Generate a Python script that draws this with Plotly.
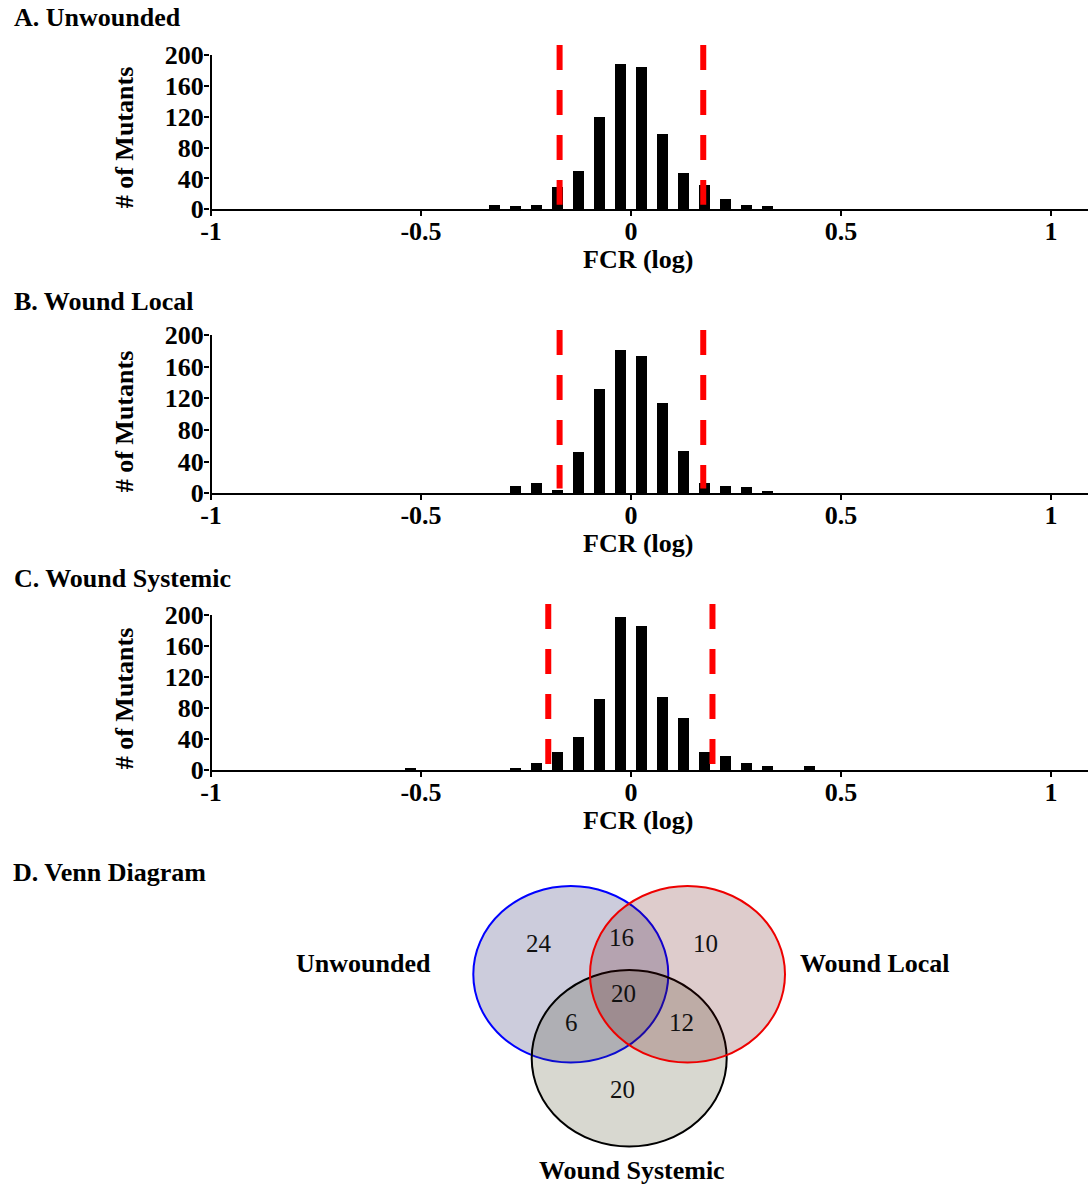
import plotly.graph_objects as go

# ---------------- data ----------------
fcr_bins = [-0.525, -0.475, -0.425, -0.375, -0.325, -0.275, -0.225, -0.175, -0.125, -0.075,
            -0.025, 0.025, 0.075, 0.125, 0.175, 0.225, 0.275, 0.325, 0.375, 0.425]
counts_unwounded = [0, 0, 0, 0, 6, 4, 6, 29, 50, 119, 188, 185, 98, 47, 32, 14, 6, 4, 0, 0]
counts_wound_local = [0, 0, 0, 0, 0, 9, 13, 4, 52, 132, 181, 173, 114, 54, 13, 9, 8, 3, 0, 0]
counts_wound_systemic = [3, 0, 0, 0, 0, 3, 9, 24, 43, 92, 197, 186, 95, 67, 23, 18, 10, 5, 0, 5]
thresholds_unwounded = [-0.17, 0.172]
thresholds_wound_local = [-0.17, 0.172]
thresholds_wound_systemic = [-0.197, 0.194]

panel_titles = ["A. Unwounded", "B. Wound Local", "C. Wound Systemic"]
x_tick_vals = [-1, -0.5, 0, 0.5, 1]
x_tick_text = ["-1", "-0.5", "0", "0.5", "1"]
y_tick_vals = [0, 40, 80, 120, 160, 200]
y_tick_text = ["0", "40", "80", "120", "160", "200"]
x_title = "FCR (log)"
y_title = "# of Mutants"

venn_title = "D. Venn Diagram"
venn_sets = ["Unwounded", "Wound Local", "Wound Systemic"]
venn_regions = ["U only", "U&L", "L only", "U&L&S", "U&S", "L&S", "S only"]
venn_counts = [24, 16, 10, 20, 6, 12, 20]

# ---------------- layout helpers ----------------
W, H = 1088, 1185
FONT = "Liberation Serif"


def pxx(p):
    return p / W


def pyy(p):
    return 1 - p / H


# per panel: baseline pixel, pixel of 200 tick, top pixel of dashed line
panel_geom = [(209.3, 55, 45), (493.3, 335, 330), (770.3, 615, 604)]
x_zero_px, x_unit_px = 631, 420
x_range = [(210 - x_zero_px) / x_unit_px, (W - x_zero_px) / x_unit_px]

series = [counts_unwounded, counts_wound_local, counts_wound_systemic]
thresholds = [thresholds_unwounded, thresholds_wound_local, thresholds_wound_systemic]

fig = go.Figure()
shapes = []
annotations = []

for i, (counts, thr, title, (base, p200, top)) in enumerate(zip(series, thresholds, panel_titles, panel_geom)):
    n = "" if i == 0 else str(i + 1)
    xa, ya = "x" + n, "y" + n
    fig.add_trace(go.Bar(x=fcr_bins, y=counts, width=0.024, marker=dict(color="black", line=dict(width=0)),
                         xaxis=xa, yaxis=ya, showlegend=False, hoverinfo="x+y"))
    ytop = 200 * (base - top) / (base - p200)
    fig.update_layout(**{
        "xaxis" + n: dict(domain=[210 / W, 1], range=x_range, anchor=ya, showgrid=False, zeroline=False,
                          automargin=False, ticklabelstandoff=-8,
                          showline=True, linecolor="black", linewidth=2, ticks="outside", ticklen=5,
                          tickwidth=2, tickcolor="black", tickvals=x_tick_vals, ticktext=x_tick_text,
                          tickfont=dict(family=FONT, size=26, color="black", weight="bold")),
        "yaxis" + n: dict(domain=[pyy(base), pyy(top)], range=[0, ytop], anchor=xa, showgrid=False,
                          zeroline=False, showline=False, ticks="outside", ticklen=5, tickwidth=2,
                          automargin=False, ticklabelstandoff=-5,
                          tickcolor="black", tickvals=y_tick_vals, ticktext=y_tick_text,
                          tickfont=dict(family=FONT, size=26, color="black", weight="bold")),
    })
    # y axis line only from 0 to 200
    shapes.append(dict(type="line", xref=xa, yref=ya, x0=-1, x1=-1, y0=0, y1=200,
                       line=dict(color="black", width=2)))
    for t in thr:
        shapes.append(dict(type="line", xref=xa, yref=ya, x0=t, x1=t, y0=ytop, y1=6,
                           line=dict(color="#ff0000", width=6, dash="25px,20px")))
    annotations.append(dict(text=title, xref="paper", yref="paper", x=pxx(12), y=pyy(base - 192),
                            xanchor="left", yanchor="middle", showarrow=False,
                            font=dict(family=FONT, size=26, color="black", weight="bold")))
    annotations.append(dict(text=x_title, xref="paper", yref="paper", x=pxx(638), y=pyy(base + 50),
                            xanchor="center", yanchor="middle", showarrow=False,
                            font=dict(family=FONT, size=26, color="black", weight="bold")))
    annotations.append(dict(text=y_title, xref="paper", yref="paper", x=pxx(124), y=pyy(base - 72),
                            xanchor="center", yanchor="middle", showarrow=False, textangle=-90,
                            font=dict(family=FONT, size=26, color="black", weight="bold")))

# ---------------- Venn diagram ----------------
annotations.append(dict(text=venn_title, xref="paper", yref="paper", x=pxx(11), y=pyy(872),
                        xanchor="left", yanchor="middle", showarrow=False,
                        font=dict(family=FONT, size=26, color="black", weight="bold")))

circle_geom = {  # centre px, radii px
    "Unwounded": (570.8, 974.3, 97.5, 88.3, "rgba(0,0,80,0.2)", "#0000ff"),
    "Wound Systemic": (629.2, 1058.3, 97.5, 88.3, "rgba(60,60,20,0.2)", "#000000"),
    "Wound Local": (687.5, 974.3, 97.5, 88.3, "rgba(90,0,0,0.2)", "#ee0000"),
}
for name in ["Unwounded", "Wound Systemic", "Wound Local"]:
    cx, cy, rx, ry, fill, edge = circle_geom[name]
    shapes.append(dict(type="circle", xref="paper", yref="paper",
                       x0=pxx(cx - rx), x1=pxx(cx + rx), y0=pyy(cy + ry), y1=pyy(cy - ry),
                       fillcolor=fill, line=dict(color=edge, width=2), layer="above"))

set_label_pos = [(363.5, 963), (875, 963), (632, 1170)]
for name, (lx, ly) in zip(venn_sets, set_label_pos):
    annotations.append(dict(text=name, xref="paper", yref="paper", x=pxx(lx), y=pyy(ly),
                            xanchor="center", yanchor="middle", showarrow=False,
                            font=dict(family=FONT, size=26, color="black", weight="bold")))

region_pos = [(539.3, 943.3), (621.7, 937.7), (705.7, 943.3), (623.3, 993.3),
              (571.7, 1022.7), (681.7, 1022.7), (622.7, 1089.3)]
for cnt, (rx_, ry_) in zip(venn_counts, region_pos):
    annotations.append(dict(text=str(cnt), xref="paper", yref="paper", x=pxx(rx_), y=pyy(ry_),
                            xanchor="center", yanchor="middle", showarrow=False,
                            font=dict(family=FONT, size=25, color="#111111")))

fig.update_layout(width=W, height=H, margin=dict(l=0, r=0, t=0, b=0, pad=0),
                  paper_bgcolor="white", plot_bgcolor="white",
                  shapes=shapes, annotations=annotations, showlegend=False, bargap=0)

fig.write_html("out.html", config={"displayModeBar": False},
               post_script="document.body.style.margin='0px';document.body.style.padding='0px';")
